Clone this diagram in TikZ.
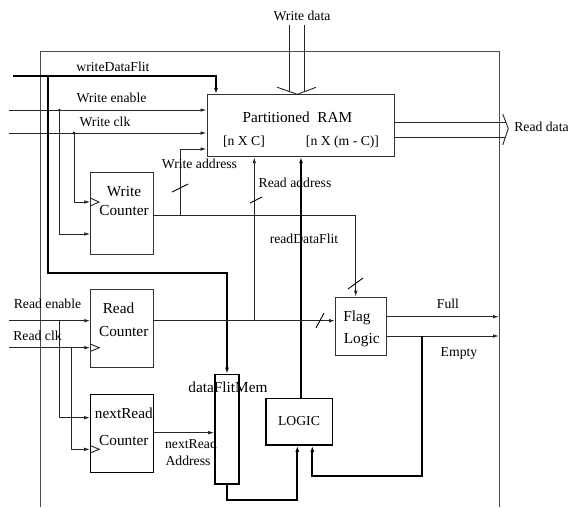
\documentclass[tikz,border=0pt]{standalone}
\usepackage{fontspec}
\setmainfont{Liberation Serif}
\usetikzlibrary{arrows.meta,calc}
\tikzset{
  thin line/.style={line width=0.9pt, draw=black!85},
  thick line/.style={line width=1.8pt, draw=black},
  arr/.style={thin line, -{Latex[length=6pt,width=3.6pt]}},
  tarr/.style={thick line, -{Latex[length=6pt,width=4pt]}},
  framel/.style={line width=0.9pt, draw=black!70},
  boxthin/.style={draw=black!80, line width=0.9pt, fill=none, inner sep=0pt},
  boxthick/.style={draw=black, line width=1.6pt, fill=none, inner sep=0pt},
  lbl/.style={inner sep=0pt, font=\fontsize{13.7}{15}\selectfont},
  blbl/.style={inner sep=0pt, font=\fontsize{15.3}{17}\selectfont},
  clk/.style={thin line},
  slash/.style={line width=0.9pt, draw=black}
}
\begin{document}
\begin{tikzpicture}[x=1pt,y=-1pt]
\useasboundingbox (0,0) rectangle (572,507);

% frame
\draw[framel] (40.5,507) |- (499,51.7) -- (499,507);

% boxes
\node[boxthin, minimum width=187pt, minimum height=62.5pt] (ram) at (300.5,125.5) {};
\node[boxthin, minimum width=62.6pt, minimum height=81.3pt] (wc) at (122,213.3) {};
\node[boxthin, minimum width=62.6pt, minimum height=78pt] (rc) at (122,328.3) {};
\node[boxthick, line width=1.3pt, minimum width=62.6pt, minimum height=78pt] (nrc) at (122,433.3) {};
\node[boxthin, line width=1.2pt, minimum width=51pt, minimum height=58.4pt] (flag) at (361.2,326.5) {};
\node[boxthick, minimum width=66.6pt, minimum height=46.7pt] (logic) at (299,421.7) {};
\node[boxthick, minimum width=24pt, minimum height=109.7pt] (dfm) at (227,429.2) {};

% box texts
\node[blbl] (ramt) at (297.5,117) {Partitioned~~RAM};
\node[lbl] (ramc) at (244,141.7) {[n X C]};
\node[lbl] (ramm) at (342.5,141.7) {[n X (m - C)]};
\node[blbl] (wct1) at (124,192) {Write};
\node[blbl] (wct2) at (124,211) {Counter};
\node[blbl] (rct1) at (118.5,308) {Read};
\node[blbl] (rct2) at (123.7,331) {Counter};
\node[blbl] (nrt1) at (123.8,413) {nextRead};
\node[blbl] (nrt2) at (123.8,440.7) {Counter};
\node[blbl] (flt1) at (357,318) {Flag};
\node[blbl] (flt2) at (361.7,340) {Logic};
\node[lbl] (lgt) at (299,421) {LOGIC};
\node[blbl] (dfmt) at (228,387.5) {dataFlitMem};

% input coordinates
\coordinate (wdfIn) at (13,75.7);
\coordinate (weIn) at (9,110);
\coordinate (wclkIn) at (9,133);
\coordinate (reIn) at (9,320.7);
\coordinate (rclkIn) at (9,347.7);
\coordinate (weBr) at (59.3,110);
\coordinate (wclkBr) at (74,133);
\coordinate (reBr) at (59.3,320.7);
\coordinate (rclkBr) at (71.7,347.7);
\coordinate (waBr) at (180.3,215.7);
\coordinate (waCorner) at (355.7,215.7);
\coordinate (raddr) at (254.3,320.7);
\coordinate (emBr) at (421.7,336);
\coordinate (fullOut) at (499,316.7);
\coordinate (emptyOut) at (499,336);
\coordinate (wdApex) at (297.3,94.3);
\coordinate (rdApex) at (508.3,128.5);

% writeDataFlit
\draw[tarr] (wdfIn) -| (216,0 |- ram.north);
\draw[tarr] (48.3,75.7) |- (dfm.north |- 0,273.3) -- (dfm.north);

% write enable / clk
\draw[arr] (weIn) -- (weIn -| ram.west);
\draw[arr] (wclkIn) -- (wclkIn -| ram.west);
\fill (weBr) circle (1.3pt);
\fill (wclkBr) circle (1.3pt);
\draw[arr] (weBr) |- (wc.west |- 0,234);
\draw[arr] (wclkBr) |- (wc.west |- 0,202);
\draw[clk] (wc.west |- 0,198) -- (99,202) -- (wc.west |- 0,206);

% write data bus
\draw[thin line] (289.3,25) -- (289.3,91);
\draw[thin line] (304.3,25) -- (304.3,91);
\draw[thin line] (277.3,87.3) -- (wdApex) -- (316,87.3);

% read data bus
\draw[thin line] (ram.east |- 0,122) -- (505.8,122);
\draw[thin line] (ram.east |- 0,137.3) -- (505.3,137.3);
\draw[thin line] (502.7,114) -- (rdApex) -- (502.7,145);

% write address
\draw[arr] (wc.east |- waBr) -- (waCorner) -- (waCorner |- flag.north);
\draw[arr] (waBr) |- (ram.west |- 0,149);

% read address
\draw[arr] (raddr) -- (raddr |- ram.south);

% readDataFlit
\draw[tarr] (301,0 |- logic.north) -- (301,0 |- ram.south);

% read enable / clk
\draw[arr] (reIn) -- (reIn -| rc.west);
\draw[arr] (rclkIn) -- (rclkIn -| rc.west);
\draw[clk] (rc.west |- 0,344) -- (99.3,347.7) -- (rc.west |- 0,351.5);
\draw[arr] (reBr) |- (nrc.west |- 0,417.7);
\draw[arr] (rclkBr) |- (nrc.west |- 0,449.3);
\draw[clk] (nrc.west |- 0,445.5) -- (99.3,449.3) -- (nrc.west |- 0,453);

% read counter output
\draw[arr] (rc.east |- reIn) -- (flag.west |- reIn);

% nextRead output
\draw[arr] (nrc.east |- 0,432.7) -- (dfm.west |- 0,432.7);

% dfm -> logic
\draw[tarr] (dfm.south) -- (dfm.south |- 0,500) -| (297.3,0 |- logic.south);

% flag outputs
\draw[arr] (flag.east |- fullOut) -- (fullOut);
\draw[arr] (flag.east |- emptyOut) -- (emptyOut);
\draw[tarr] (emBr) |- (312.3,476) -- (312.3,0 |- logic.south);

% slashes
\draw[slash] (172,192) -- (188,184);
\draw[slash] (250,203) -- (262,197);
\draw[slash] (348,289) -- (363,278);
\draw[slash] (316,328) -- (324,313);

% labels
\node[lbl] (l1) at (113,67) {writeDataFlit};
\node[lbl] (l2) at (111.5,98) {Write enable};
\node[lbl] (l3) at (105,122) {Write clk};
\node[lbl] (l4) at (302,16) {Write data};
\node[lbl] (l5) at (541.5,127) {Read data};
\node[lbl] (l6) at (199.5,164) {Write address};
\node[lbl] (l7) at (295,183) {Read address};
\node[lbl] (l8) at (304,239) {readDataFlit};
\node[lbl] (l9) at (448,304) {Full};
\node[lbl] (l10) at (459,353) {Empty};
\node[lbl] (l11) at (47.5,304) {Read enable};
\node[lbl] (l12) at (37.5,336) {Read clk};
\node[lbl] (l13) at (191,444) {nextRead};
\node[lbl] (l14) at (188,460.7) {Address};
\end{tikzpicture}
\end{document}
